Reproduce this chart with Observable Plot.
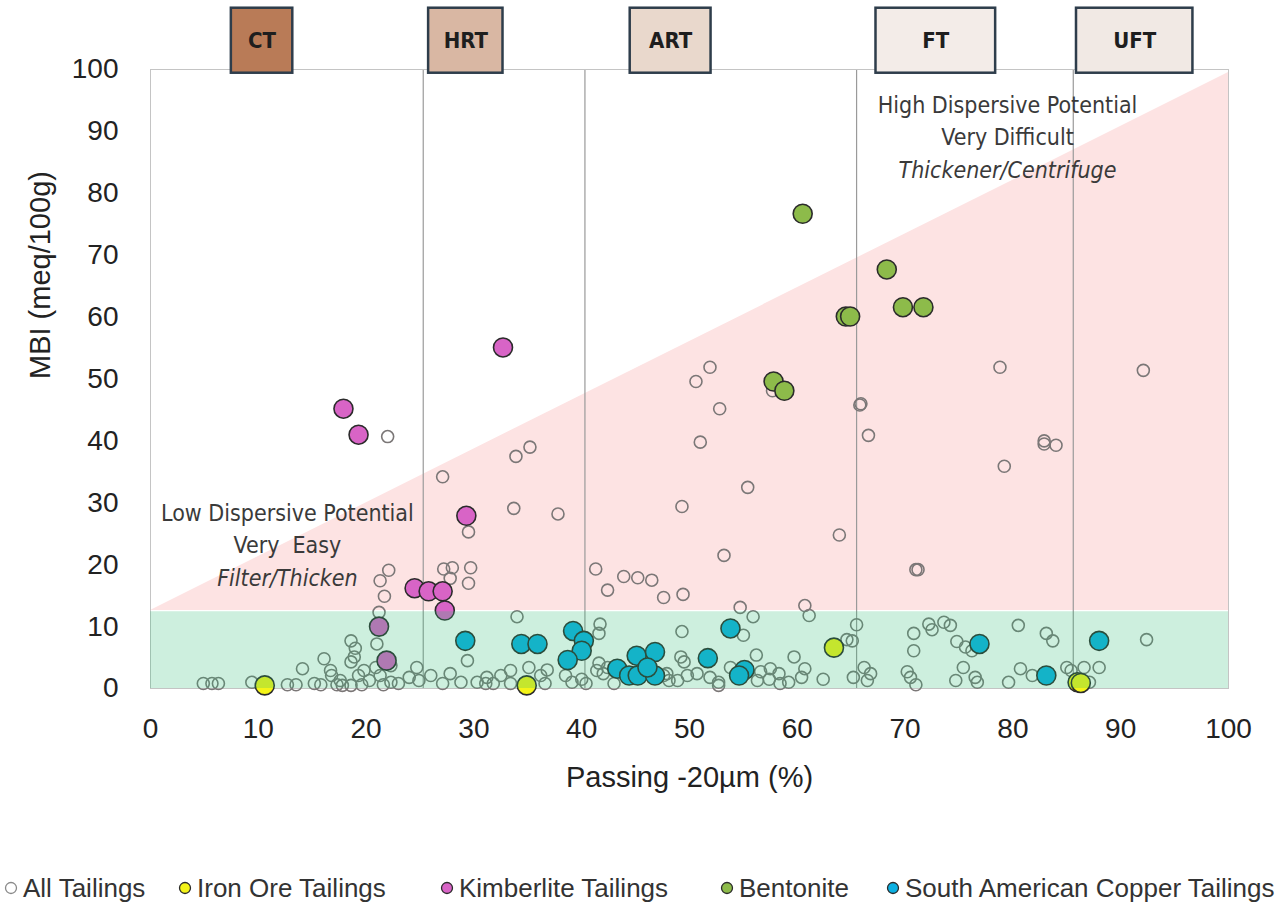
<!DOCTYPE html>
<html><head><meta charset="utf-8">
<script src="https://cdn.jsdelivr.net/npm/d3@7"></script>
<script src="https://cdn.jsdelivr.net/npm/@observablehq/plot@0.6"></script>
<style>
body{margin:0;background:#fff;width:1288px;height:908px;overflow:hidden;font-family:"Liberation Sans",Arial,sans-serif;position:relative}
#legend{position:absolute;top:871px;left:0;width:1288px;height:34px;font-size:26px;color:#333}
#legend .item{position:absolute;top:0;white-space:nowrap;line-height:34px}
#legend svg{vertical-align:middle;margin-right:5px;position:relative;top:-2px}
</style></head><body><div id="chart"></div><div id="legend"></div>
<script>
// ---- data ----
const allTailings = [
[22.0,40.7],[27.1,34.2],[33.9,37.5],[35.2,39.0],[33.7,29.1],[29.5,25.3],[22.1,19.1],[27.2,19.3],[28.0,19.5],[29.7,19.5],
[51.9,51.9],[50.6,49.6],[52.8,45.2],[51.0,39.8],[57.7,48.1],[65.8,45.8],[65.9,46.0],[66.6,40.9],[37.8,28.2],[55.4,32.5],
[49.3,29.4],[63.9,24.8],[53.2,21.5],[41.3,19.3],[42.4,15.9],[43.9,18.1],[45.2,17.9],[46.5,17.5],[47.6,14.7],[49.4,15.2],
[78.8,51.9],[92.1,51.4],[82.9,39.5],[82.9,40.0],[84.0,39.3],[79.2,35.9],[71.0,19.2],[71.2,19.2],[60.7,13.4],[61.1,11.8],
[21.3,17.4],[21.7,14.9],[21.2,12.3],[29.5,17.0],[27.8,17.8],[34.0,11.6],[54.7,13.1],[55.9,11.6],[65.5,10.3],
[21.0,7.2],[18.6,7.7],[19.0,6.5],[18.9,5.1],[18.6,4.3],[16.1,4.8],[16.7,2.9],[16.8,2.1],[14.1,3.2],[15.2,0.8],
[17.6,1.3],[17.8,0.5],[19.3,2.1],[19.8,2.9],[20.3,1.3],[20.9,3.4],[21.3,2.1],[22.3,3.7],[22.3,1.0],[23.0,0.8],
[24.0,1.8],[24.7,3.4],[24.9,1.3],[26.0,2.1],[27.1,0.8],[4.9,0.8],[5.7,0.8],[6.3,0.8],[9.4,1.0],[12.7,0.6],
[13.5,0.6],[15.8,0.6],[17.3,0.6],[18.6,0.5],[19.6,0.6],[21.6,0.6],
[41.7,10.4],[41.6,8.9],[49.3,9.2],[29.4,4.5],[49.2,5.1],[49.5,4.3],[41.6,4.1],[41.4,2.9],[35.1,3.4],[36.8,3.0],
[33.4,2.9],[32.5,2.1],[31.2,1.8],[30.3,1.0],[27.8,2.4],[28.8,1.0],[31.1,0.8],[31.8,0.8],[33.4,0.8],[36.2,2.1],
[36.6,0.8],[38.5,2.1],[39.1,1.0],[40.0,1.5],[40.4,0.8],[42.0,2.4],[42.4,3.4],[43.0,0.8],[47.9,2.4],[48.9,1.3],
[49.8,2.1],[50.7,2.4],
[55.0,8.6],[51.9,1.8],[52.7,1.0],[52.7,0.5],[53.8,3.4],[56.2,5.4],[56.6,2.7],[57.5,3.2],[57.4,1.5],[58.3,2.4],
[58.4,0.8],[59.2,1.0],[59.7,5.1],[60.4,1.8],[60.7,3.2],[62.4,1.5],[64.6,7.9],[65.1,7.7],[65.2,1.8],[66.2,3.4],
[66.8,2.4],[66.5,1.3],[70.2,2.7],[70.5,1.8],[71.0,0.6],[70.8,8.9],[70.8,6.1],[72.2,10.4],[72.5,9.5],[73.6,10.7],
[47.6,2.1],[48.1,1.3],[56.3,1.3],
[74.2,10.2],[74.8,7.6],[75.6,6.7],[76.2,6.1],[75.4,3.4],[74.7,1.3],[76.5,1.8],[76.7,1.0],[79.6,1.0],[80.5,10.2],
[80.7,3.2],[81.8,2.1],[83.1,8.9],[83.7,7.7],[85.0,3.4],[85.4,2.9],[86.6,3.4],[88.0,3.4],[87.1,1.0],[92.4,7.9]
];
const ironOre = [[10.6,0.5],[34.9,0.5],[63.4,6.6],[86.0,1.0],[86.3,0.9]];
const kimberlite = [[17.9,45.2],[19.3,41.0],[32.7,55.1],[29.3,27.9],[24.5,16.2],[25.8,15.7],[27.1,15.7],[27.3,12.6],[21.2,10.0],[21.9,4.5]];
const bentonite = [[60.5,76.7],[68.3,67.7],[69.8,61.6],[71.7,61.6],[64.5,60.1],[64.9,60.1],[57.8,49.6],[58.8,48.1]];
const copper = [[29.2,7.7],[34.4,7.2],[35.9,7.2],[39.2,9.3],[40.2,7.7],[40.0,6.1],[38.7,4.6],[43.3,3.2],[44.4,2.1],[45.1,5.3],
[45.2,2.1],[46.8,5.9],[46.8,2.1],[46.1,3.4],[53.8,9.7],[51.7,4.9],[55.1,3.0],[54.6,2.1],[76.9,7.2],[83.1,2.1],[88.0,7.7]];

const xTicks = [0,10,20,30,40,50,60,70,80,90,100];
const yTicks = [0,10,20,30,40,50,60,70,80,90,100];
const zoneLabels = ["CT","HRT","ART","FT","UFT"];
const zoneLeft = [7.5,25.8,44.5,67.3,85.9];
const zoneRight = [13.2,32.7,52.0,78.4,96.7];
const zoneFill = ["#b97b57","#d9b7a3","#e9d8cc","#f3ece8","#f1e9e4"];
const zoneBounds = [25.3,40.3,65.5,85.6];
const bandTop = 12.4;
const triangle = [{x:0,y1:12.6,y2:12.6},{x:100,y1:12.6,y2:99.5}];
const highLines = ["High Dispersive Potential","Very Difficult","Thickener/Centrifuge"];
const lowLines = ["Low Dispersive Potential","Very  Easy","Filter/Thicken"];
const seriesNames = ["All Tailings","Iron Ore Tailings","Kimberlite Tailings","Bentonite","South American Copper Tailings"];
const seriesFill = ["none","#f4f418","#d864c6","#8dbb4a","#0cb0e2"];

// ---- chart ----
const zones = zoneLabels.map((l,i)=>({label:l,l:zoneLeft[i],r:zoneRight[i],fill:zoneFill[i]}));
const ann = "DejaVu Sans Condensed, DejaVu Sans, sans-serif";
const colored = (data, fill) => Plot.dot(data, {x:d=>d[0], y:d=>d[1], r:9.5, fill, stroke:"#2b2b2b", strokeWidth:1.6});
const chart = Plot.plot({
  width:1288, height:830, marginLeft:150, marginRight:60, marginTop:69, marginBottom:142,
  x:{domain:[0,100], ticks:xTicks, tickSize:0, tickPadding:30, label:null},
  y:{domain:[0,100], ticks:yTicks, tickSize:0, tickPadding:32, label:null},
  style:{fontFamily:"Liberation Sans, Arial, sans-serif", fontSize:"28px", color:"#222", background:"white", overflow:"visible"},
  marks:[
    Plot.areaY(triangle, {x:"x", y1:"y1", y2:"y2", fill:"#fde3e3"}),
    Plot.ruleX(zoneBounds, {stroke:"#9a9a9a", strokeWidth:1.2}),
    Plot.frame({stroke:"#c4c4c4"}),
    Plot.dot(allTailings, {x:d=>d[0], y:d=>d[1], r:6, stroke:"#7b7777", strokeWidth:1.6, fill:"none"}),
    colored(ironOre, seriesFill[1]),
    colored(kimberlite, seriesFill[2]),
    colored(bentonite, seriesFill[3]),
    colored(copper, seriesFill[4]),
    Plot.rect([{x1:0,x2:100,y1:0,y2:bandTop}], {x1:"x1",x2:"x2",y1:"y1",y2:"y2", fill:"#2fbd74", fillOpacity:0.24}),
    Plot.rect(zones, {x1:"l", x2:"r", y1:99.4, y2:109.9, fill:"fill", stroke:"#2e3d4b", strokeWidth:2.5}),
    Plot.text(zones, {x:d=>(d.l+d.r)/2, y:104.6, text:"label", fontWeight:"bold", fontSize:22, fill:"#1e1e1e", fontFamily:"Liberation Sans Narrow, DejaVu Sans Condensed, sans-serif"}),
    Plot.text(highLines.slice(0,2), {x:79.5, y:(d,i)=>[94.2,89.0][i], text:d=>d, fontSize:23, fill:"#3a3a3a", fontFamily:ann}),
    Plot.text(highLines.slice(2), {x:79.5, y:83.7, text:d=>d, fontSize:23, fontStyle:"italic", fill:"#3a3a3a", fontFamily:ann}),
    Plot.text(lowLines.slice(0,2), {x:12.7, y:(d,i)=>[28.3,23.1][i], text:d=>d, fontSize:23, fill:"#3a3a3a", fontFamily:ann}),
    Plot.text(lowLines.slice(2), {x:12.7, y:17.8, text:d=>d, fontSize:23, fontStyle:"italic", fill:"#3a3a3a", fontFamily:ann}),
    Plot.text(["Passing -20µm (%)"], {frameAnchor:"bottom", dy:98, text:d=>d, fontSize:29, fill:"#222"}),
    Plot.text(["MBI (meq/100g)"], {frameAnchor:"left", dx:-110, rotate:-90, text:d=>d, fontSize:29, fill:"#222"})
  ]
});
document.getElementById("chart").appendChild(chart);

// ---- legend ----
const legendLeft = [4,178,440,720,886];
const legend = document.getElementById("legend");
seriesNames.forEach((name,i)=>{
  const it = document.createElement("div");
  it.className = "item"; it.style.left = legendLeft[i] + "px";
  const stroke = i===0 ? "#8a8a8a" : "#2b2b2b";
  it.innerHTML = `<svg width="14" height="14"><circle cx="7" cy="7" r="5.5" fill="${seriesFill[i]}" stroke="${stroke}" stroke-width="1.3"/></svg>${name}`;
  legend.appendChild(it);
});
</script></body></html>
